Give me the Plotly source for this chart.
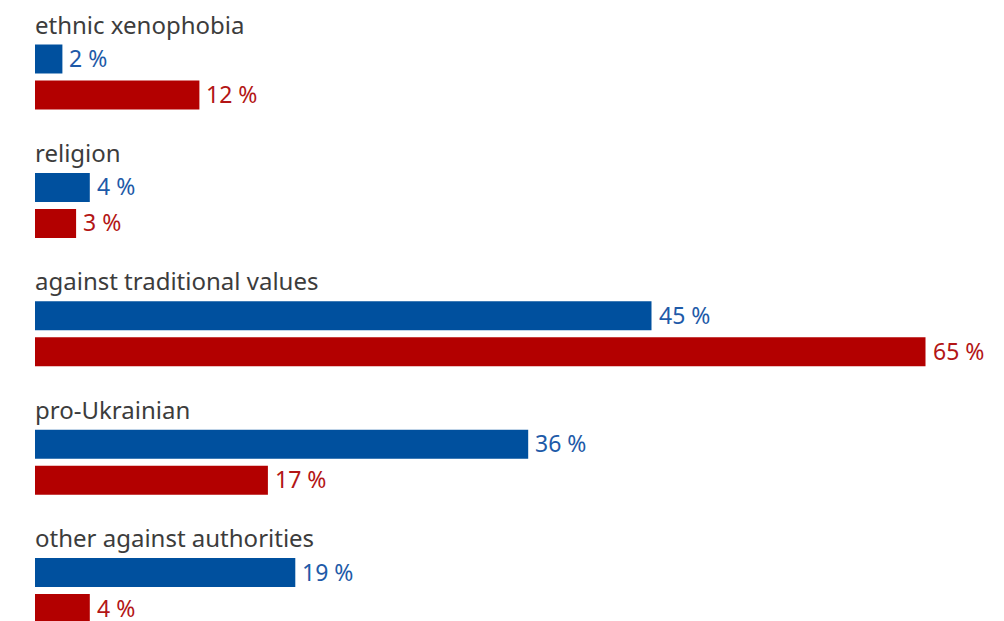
import plotly.graph_objects as go

categories = ["ethnic xenophobia", "religion", "against traditional values",
              "pro-Ukrainian", "other against authorities"]
blue_values = [2, 4, 45, 36, 19]
red_values = [12, 3, 65, 17, 4]

W, H = 1004, 621
BLUE, RED = "#00509e", "#b30000"
BLUE_TXT, RED_TXT = "#1e5aa8", "#b31515"
FONT = "Noto Sans"

# vertical layout in pixel units (y axis runs top -> bottom)
group_step = 128.4
label_y = 24
blue_y = 59
red_y = 95
bar_h = 29

n = len(categories)
ys_blue = [blue_y + group_step * i for i in range(n)]
ys_red = [red_y + group_step * i for i in range(n)]

px_per_unit = 13.7
x0 = -35 / px_per_unit
x1 = x0 + W / px_per_unit

fig = go.Figure()
fig.add_trace(go.Bar(
    y=ys_blue, x=blue_values, orientation="h", width=bar_h,
    marker=dict(color=BLUE, line=dict(width=0)), hoverinfo="skip",
))
fig.add_trace(go.Bar(
    y=ys_red, x=red_values, orientation="h", width=bar_h,
    marker=dict(color=RED, line=dict(width=0)), hoverinfo="skip",
))

# value labels just right of each bar
for vals, ys, col in ((blue_values, ys_blue, BLUE_TXT), (red_values, ys_red, RED_TXT)):
    for v, y in zip(vals, ys):
        fig.add_annotation(
            x=v, y=y - 1, xref="x", yref="y", text=f"{v} %", showarrow=False,
            xanchor="left", yanchor="middle", xshift=6, borderpad=0,
            font=dict(size=23, color=col, family=FONT),
        )

# category titles above each pair of bars
for i, cat in enumerate(categories):
    fig.add_annotation(
        x=0, y=label_y + group_step * i, xref="x", yref="y",
        text=cat, showarrow=False, xanchor="left", yanchor="middle",
        xshift=-2, font=dict(size=24, color="#3c3c3c", family=FONT),
    )

fig.update_layout(
    width=W, height=H, margin=dict(l=0, r=0, t=0, b=0),
    paper_bgcolor="white", plot_bgcolor="white",
    barmode="overlay", showlegend=False,
    xaxis=dict(range=[x0, x1], visible=False, fixedrange=True),
    yaxis=dict(range=[H, 0], visible=False, fixedrange=True),
)

fig.write_html("out.html")
